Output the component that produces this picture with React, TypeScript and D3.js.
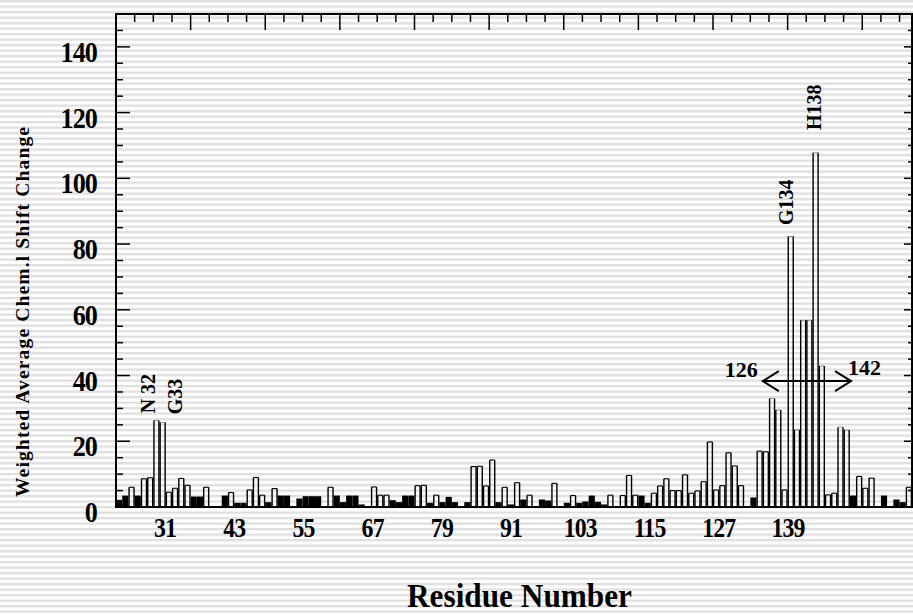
import React from "react";
import * as d3 from "d3";

// residue numbering starts here; one value per residue
const firstResidue = 26;
const shiftValues = [
	2.0, 3.3, 6.0, 3.3, 8.6, 8.9, 26.3, 25.7, 4.5, 5.7,
	8.7, 6.6, 3.0, 3.0, 6.0, 0, 0, 3.3, 4.4, 1.1,
	1.1, 5.2, 9.0, 3.6, 1.3, 5.6, 3.3, 3.3, 0, 2.4,
	3.1, 3.1, 3.1, 0, 6.0, 3.3, 1.3, 3.3, 3.3, 0.6,
	0, 6.1, 3.6, 3.6, 1.9, 1.3, 3.3, 3.3, 6.5, 6.6,
	1.1, 3.6, 1.3, 2.9, 1.3, 0, 1.3, 12.3, 12.4, 6.4,
	14.3, 1.3, 6.0, 0.6, 7.4, 2.1, 3.6, 0, 2.1, 1.8,
	7.2, 0, 1.1, 3.5, 1.1, 1.5, 3.3, 1.4, 0.6, 3.6,
	0, 3.5, 9.6, 3.6, 3.3, 1.1, 4.2, 6.4, 8.6, 5.0,
	5.0, 9.8, 4.2, 4.9, 7.7, 19.8, 5.2, 6.5, 16.5, 12.5,
	6.5, 0, 2.7, 17.0, 16.8, 33.0, 29.5, 5.2, 82.3, 23.5,
	56.8, 56.8, 107.8, 42.9, 3.7, 4.2, 24.3, 23.4, 3.3, 9.3,
	5.7, 8.8, 0, 3.3, 0, 2.1, 1.3, 6.0
];
const residues = shiftValues.map((_, i) => firstResidue + i);

const xTickLabels = ["31", "43", "55", "67", "79", "91", "103", "115", "127", "139"];
const yTickValues = [0, 20, 40, 60, 80, 100, 120, 140];

// labelled peaks: text, residue position, value position (bottom of the rotated text)
const peakLabels = [
	{ text: "N 32", residue: 31.7, value: 28.5 },
	{ text: "G33", residue: 36.1, value: 28.2 },
	{ text: "G134", residue: 134.4, value: 85.8 },
	{ text: "H138", residue: 138.8, value: 114.7 }
];
const arrowRange = [129.5, 143.7];
const arrowValue = 38.3;
const arrowLabels = ["126", "142"];

const W = 913;
const H = 614;
const font = "'Liberation Serif', 'Times New Roman', serif";

class ShiftChart extends React.Component<{}, {}> {
	renderd: boolean = false;
	myRef: React.RefObject<HTMLDivElement>;

	constructor(props: {}) {
		super(props);
		this.myRef = React.createRef();
	}

	componentDidMount() {
		if (this.renderd) {
			return;
		}
		const root = d3.select(this.myRef.current);
		root.selectAll("*").remove();

		const svg = root.append("svg").attr("width", W).attr("height", H);

		const left = 116, right = 912, top = 14, bottom = 507;

		// striped background
		const defs = svg.append("defs");
		const pat = defs.append("pattern")
			.attr("id", "stripes")
			.attr("patternUnits", "userSpaceOnUse")
			.attr("width", W)
			.attr("height", 5.5);
		pat.append("rect").attr("width", W).attr("height", 5.5).attr("fill", "#ffffff");
		pat.append("rect").attr("y", 0).attr("width", W).attr("height", 2.3).attr("fill", "#dfdfdf");
		svg.append("rect").attr("width", W).attr("height", H).attr("fill", "url(#stripes)");

		const x = d3.scaleBand<number>()
			.domain(residues)
			.range([left, right])
			.paddingInner(0.2)
			.paddingOuter(0.1);
		const xr = d3.scaleLinear()
			.domain([firstResidue - 0.5, firstResidue + residues.length - 0.5])
			.range([left, right]);
		const y = d3.scaleLinear().domain([0, 150]).range([bottom, top]);
		const bw = x.bandwidth();

		// bars: small ones look solid, the rest are open outlines with faint caps
		svg.append("g")
			.selectAll("g")
			.data(shiftValues)
			.enter()
			.append("g")
			.each(function (d, i) {
				const g = d3.select(this);
				const x0 = x(residues[i]) as number;
				const x1 = x0 + bw;
				if (d < 3.5) {
					g.append("rect")
						.attr("x", x0 - 0.6)
						.attr("width", bw + 1.2)
						.attr("y", y(d) - 0.6)
						.attr("height", bottom - y(d) + 0.6)
						.attr("fill", "#000");
					return;
				}
				g.append("path")
					.attr("d", `M${x0},${bottom}V${y(d)}M${x1},${bottom}V${y(d)}`)
					.attr("stroke", "#000")
					.attr("stroke-width", 1.4)
					.attr("fill", "none");
				g.append("line")
					.attr("x1", x0).attr("x2", x1)
					.attr("y1", y(d)).attr("y2", y(d))
					.attr("stroke", "#000")
					.attr("stroke-width", d < 20 ? 1.1 : 0.4);
			});

		// frame
		svg.append("rect")
			.attr("x", left).attr("y", top)
			.attr("width", right - left).attr("height", bottom - top)
			.attr("fill", "none").attr("stroke", "#000").attr("stroke-width", 2);

		// y ticks, left and right
		const yMinor = d3.range(0, 151, 5);
		const tg = svg.append("g").attr("stroke", "#000").attr("stroke-width", 1.5);
		tg.selectAll("line.yl")
			.data(yMinor)
			.enter()
			.append("line")
			.attr("x1", left).attr("x2", (d) => left + (d % 20 === 0 ? 14 : 7))
			.attr("y1", (d) => y(d)).attr("y2", (d) => y(d));
		tg.selectAll("line.yr")
			.data(yMinor)
			.enter()
			.append("line")
			.attr("x1", right).attr("x2", (d) => right - (d % 20 === 0 ? 8 : 4))
			.attr("y1", (d) => y(d)).attr("y2", (d) => y(d));

		// top ticks every 3 residues, long every 12
		const topTicks = d3.range(1, 43);
		tg.selectAll("line.xt")
			.data(topTicks)
			.enter()
			.append("line")
			.attr("x1", (k) => xr(firstResidue - 0.5 + 3 * k))
			.attr("x2", (k) => xr(firstResidue - 0.5 + 3 * k))
			.attr("y1", top).attr("y2", (k) => top + (k % 4 === 0 ? 16 : 8));

		// y tick labels (tall, narrow bold serif)
		svg.append("g")
			.selectAll("text")
			.data(yTickValues)
			.enter()
			.append("text")
			.attr("transform", (d) => `translate(97, ${y(d) + 15}) scale(0.87, 1)`)
			.attr("text-anchor", "end")
			.attr("font-family", font)
			.attr("font-weight", "bold")
			.attr("font-size", 30)
			.attr("letter-spacing", -1)
			.text((d) => d);

		// x tick labels
		const xl = d3.scalePoint<string>().domain(xTickLabels).range([165, 788]);
		svg.append("g")
			.selectAll("text")
			.data(xTickLabels)
			.enter()
			.append("text")
			.attr("transform", (d) => `translate(${xl(d)}, 537) scale(0.85, 1)`)
			.attr("text-anchor", "middle")
			.attr("font-family", font)
			.attr("font-weight", "bold")
			.attr("font-size", 28)
			.attr("letter-spacing", -1)
			.text((d) => d);

		// axis titles
		svg.append("text")
			.attr("x", 407).attr("y", 607)
			.attr("font-family", font)
			.attr("font-weight", "bold")
			.attr("font-size", 33)
			.attr("textLength", 225)
			.attr("lengthAdjust", "spacingAndGlyphs")
			.text("Residue Number");

		svg.append("text")
			.attr("transform", "translate(29, 312) rotate(-90)")
			.attr("text-anchor", "middle")
			.attr("font-family", font)
			.attr("font-weight", "bold")
			.attr("font-size", 19.5)
			.attr("textLength", 370)
			.attr("lengthAdjust", "spacing")
			.text("Weighted Average Chem.l Shift Change");

		// peak labels
		svg.append("g")
			.selectAll("text")
			.data(peakLabels)
			.enter()
			.append("text")
			.attr("transform", (d) => `translate(${xr(d.residue)}, ${y(d.value)}) rotate(-90)`)
			.attr("font-family", font)
			.attr("font-weight", "bold")
			.attr("font-size", 20)
			.text((d) => d.text);

		// double arrow 126 <-> 142
		const ax0 = xr(arrowRange[0]);
		const ax1 = xr(arrowRange[1]);
		const ay = y(arrowValue);
		const ap = d3.path();
		ap.moveTo(ax0, ay); ap.lineTo(ax1, ay);
		ap.moveTo(ax0 + 16, ay - 10); ap.lineTo(ax0, ay); ap.lineTo(ax0 + 16, ay + 10);
		ap.moveTo(ax1 - 16, ay - 10); ap.lineTo(ax1, ay); ap.lineTo(ax1 - 16, ay + 10);
		svg.append("path")
			.attr("d", ap.toString())
			.attr("fill", "none")
			.attr("stroke", "#000")
			.attr("stroke-width", 2);

		svg.append("text")
			.attr("x", ax0 - 5).attr("y", ay - 4)
			.attr("text-anchor", "end")
			.attr("font-family", font).attr("font-weight", "bold").attr("font-size", 22)
			.text(arrowLabels[0]);
		svg.append("text")
			.attr("x", ax1 - 3).attr("y", ay - 6)
			.attr("text-anchor", "start")
			.attr("font-family", font).attr("font-weight", "bold").attr("font-size", 22)
			.text(arrowLabels[1]);

		this.renderd = true;
	}

	render() {
		return <div ref={this.myRef} style={{ position: "absolute", left: 0, top: 0 }} />;
	}
}

export default function App() {
	return <ShiftChart />;
}
